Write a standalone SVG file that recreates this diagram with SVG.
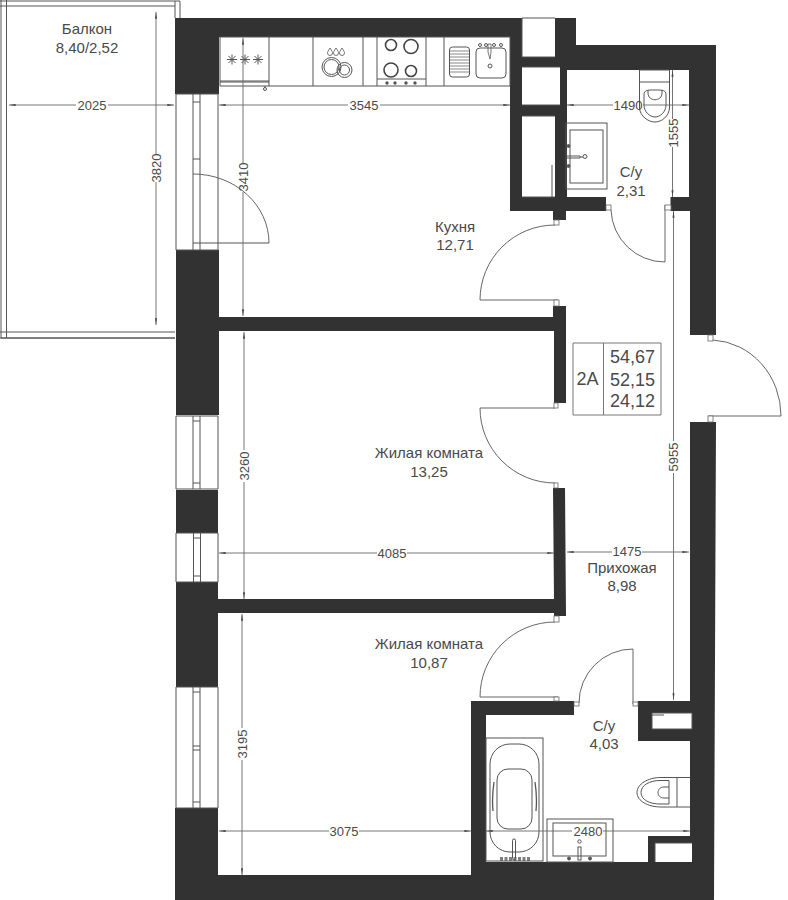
<svg xmlns="http://www.w3.org/2000/svg" width="788" height="900" viewBox="0 0 788 900">
<defs>
<marker id="a" viewBox="0 0 10 6" refX="10" refY="3" markerWidth="8" markerHeight="4" markerUnits="userSpaceOnUse" orient="auto-start-reverse"><path d="M0 1.500L10 3L0 4.500Z" fill="#444"/></marker>
</defs>
<style>
text{font-family:"Liberation Sans",Arial,sans-serif;fill:#4a4a4a;text-anchor:middle}
.r{font-size:15px}.d{font-size:13px}.b{font-size:18px}
.w{fill:#323232;stroke:none}
.l,.f,.ds,.de{fill:none;stroke:#555;stroke-width:1}
.f{stroke-width:.9}
.ds,.de{stroke:#666;stroke-width:.9}
.ds{marker-start:url(#a)}.de{marker-end:url(#a)}
.o{fill:#fff;stroke:#666;stroke-width:.8}
</style>
<rect width="788" height="900" fill="#fff"/>
<g id="walls">
<path class="w" d="M175 18H576V45H716V335H690V211H670.500V197H689V70H567V197H606V211H566V220H553V211H510V37H219V94H175Z"/>
<path class="w" d="M176 250H219V317H553V306H566V403H554V331H219V415H176Z"/>
<path class="w" d="M176 490H218V533H176Z"/>
<path class="w" d="M553 488H565L566 616H554V613H218V687H176V582H218V599H554Z"/>
<path class="w" d="M175 808H218V875H471V701H574V715H486V862H648V836H690V741H638V701H690V422H716L714 900H175Z"/>
<rect x="522" y="18" width="33" height="39" fill="#fff"/>
<rect x="522" y="67" width="38" height="38" fill="#fff"/>
<rect x="522" y="116" width="33" height="81" fill="#fff"/>
<rect x="652" y="713" width="40" height="16" fill="#fff"/>
<rect x="655" y="843" width="37" height="19" fill="#fff"/>
<path class="l" d="M522 18V57H555M522 18H555M522 67H560M522 105H560M522 116H555M522 197H555M552 165V197M652 713H692V729H652ZM655 843V862M655 843H692M652 715H664" stroke-width=".6"/>
</g>
<g id="balcony">
<path class="l" d="M1 0V338H175M6.500 0V338M0 1H180V18M175 1V18M0 6H175M0 332H175M0 338H175"/>
</g>
<g id="windows">
<path class="l" d="M176 94H218V250H176ZM193 94V250M200 94V250M193 102H200M193 159H200M193 243H269"/>
<path class="l" d="M176 416H218V489H176ZM193 416V489M200 416V489M193 421H200M193 483H200"/>
<path class="l" d="M176 533H218V582H176ZM193.500 533V582M200.500 533V582M193.500 538H200.500M193.500 576H200.500"/>
<path class="l" d="M176 687H218V808H176ZM193 687V808M200 687V808M193 692H200M193 746H200M193 750H200M193 802H200"/>
</g>
<g id="doors">
<path class="f" d="M193 174A76 69 0 0 1 269 243"/>
<path class="f" d="M555 225A75 75 0 0 0 480 300H558"/>
<path class="f" d="M480 408H555M480 408A75 75 0 0 0 555 483"/>
<path class="f" d="M555 622A75 75 0 0 0 480 697H558"/>
<path class="f" d="M611 210A54 54 0 0 0 665 262V205"/>
<path class="f" d="M579 703A54 54 0 0 1 633 649V704"/>
<path class="f" d="M713 340A72 76 0 0 1 781 416H708"/>
<g class="o">
<rect x="554" y="220" width="5" height="5"/><rect x="554" y="300" width="5" height="6"/>
<rect x="554" y="403" width="4" height="5"/><rect x="554" y="483" width="4" height="5"/>
<rect x="554" y="616" width="5" height="6"/><rect x="554" y="697" width="5" height="4"/>
<rect x="606" y="205" width="5" height="5"/><rect x="665" y="205" width="6" height="5"/>
<rect x="574" y="702" width="5" height="4"/><rect x="633" y="702" width="5" height="4"/>
<rect x="708" y="335" width="5" height="6"/><rect x="708" y="416" width="5" height="6"/>
</g>
</g>
<g id="kitchen">
<path class="l" d="M220 37H510V86H220ZM269 37V86M313 37V86M363 37V86M377 37V86M426 37V86M444 37V86M220 82H269M220 81H269M377 79H426"/>
<g stroke="#555" stroke-width="1" fill="none">
<path d="M227 59.500H237M232 54.500V64.500M228.500 56L235.500 63M235.500 56L228.500 63M240 59.500H250M245 54.500V64.500M241.500 56L248.500 63M248.500 56L241.500 63M253 59.500H263M258 54.500V64.500M254.500 56L261.500 63M261.500 56L254.500 63"/>
<circle cx="265" cy="89" r="1.500"/><path d="M265 86V88"/>
<path d="M330 48c-2 3-2.500 4-2.500 5a2.500 2.500 0 0 0 5 0c0-1-.5-2-2.500-5ZM336 48c-2 3-2.500 4-2.500 5a2.500 2.500 0 0 0 5 0c0-1-.5-2-2.500-5ZM342 48c-2 3-2.500 4-2.500 5a2.500 2.500 0 0 0 5 0c0-1-.5-2-2.500-5Z" stroke-width=".8"/>
<circle cx="331.500" cy="67" r="9.500"/><circle cx="331.500" cy="67" r="7.500"/><circle cx="344.500" cy="70" r="7.500"/><circle cx="344.500" cy="70" r="5"/>
<g stroke="#444" stroke-width="1.600"><circle cx="391" cy="45" r="5.500"/><circle cx="411" cy="46.500" r="7"/><circle cx="391" cy="70" r="7"/><circle cx="411" cy="71" r="5.500"/></g>
<g fill="#555" stroke="none"><circle cx="387" cy="83" r="1.700"/><circle cx="395" cy="83" r="1.700"/><circle cx="406" cy="83" r="1.700"/><circle cx="415" cy="83" r="1.700"/></g>
<rect x="449.500" y="47" width="20" height="30" rx="3"/><path d="M450 51H469M450 54H469M450 57H469M450 60H469M450 63H469M450 66H469M450 69H469M450 72H469" stroke-width=".7"/>
<rect x="476" y="48" width="30" height="30" rx="4"/><path d="M488 44V52L490 59L491 52V44Z" stroke-width=".8"/>
<circle cx="490" cy="66" r="2"/><circle cx="480" cy="45" r="1.500"/><circle cx="486" cy="45" r="1.500"/><circle cx="494" cy="45" r="1.500"/><circle cx="501" cy="45" r="1.500"/>
</g>
</g>
<g id="wc-top">
<g stroke="#555" stroke-width="1" fill="none">
<rect x="566" y="123" width="41" height="66"/><rect x="570" y="130" width="33" height="53"/>
<path d="M567 156H580V158H567M580 157H583"/><circle cx="585" cy="156.500" r="2"/>
<circle cx="568.500" cy="146" r="1.500" fill="#555"/><circle cx="568.500" cy="166" r="1.500" fill="#555"/>
<path d="M639.500 70H669.500V82H639.500ZM639.500 82V108C640 116 648 122 655 122C662 122 669 116 669.500 108V82"/>
<path d="M644 95C644 90 647 90 655 90C663 90 666 90 666 95V105C666 112 660 117 655 117C650 117 644 112 644 105Z"/>
<path d="M648 90V93C648 102 662 102 662 93V90"/>
</g>
</g>
<g id="wc-bottom">
<g stroke="#555" stroke-width="1" fill="none">
<rect x="486" y="738" width="57" height="123"/>
<rect x="490" y="744" width="49" height="108" rx="20"/>
<rect x="497" y="769" width="35" height="60" rx="11"/>
<path d="M494 782C492 795 492 800 493 811M535 782C537 795 537 800 536 811" stroke-width="1.300"/>
<rect x="512.500" y="839" width="3" height="21" rx="1.500"/>
<path d="M500 858H530M500 860H530" stroke-width="1.500" stroke-dasharray="3 1.500"/>
<rect x="547" y="819" width="66" height="43"/><rect x="553" y="823" width="53" height="33"/>
<circle cx="579.500" cy="841.500" r="1.700"/><rect x="578" y="847" width="3" height="13"/>
<circle cx="569" cy="858.500" r="1.500" fill="#555"/><circle cx="590" cy="858.500" r="1.500" fill="#555"/>
<path d="M690 777.500H677V807H690M677 777.500H661C648 777.500 637 784 637 792.500C637 801 648 807 661 807H677"/>
<path d="M669 780.500H660C650 780.500 641 785 641 792.500C641 800 650 804 660 804H669Z"/>
<path d="M669 787H664C656 787 656 798 664 798H669"/>
</g>
</g>
<g id="connectors">
<path class="ds" d="M9 105H76"/><path class="de" d="M108 105H174"/>
<path class="ds" d="M156 12V154"/><path class="de" d="M156 182V325"/>
<path class="ds" d="M219 105H348"/><path class="de" d="M380 105H510"/>
<path class="ds" d="M243 38V163"/><path class="de" d="M243 192V316"/>
<path class="ds" d="M567 105H613"/><path class="de" d="M643 105H689"/>
<path class="ds" d="M672.500 70V119"/><path class="de" d="M672.500 147V197"/>
<path class="ds" d="M673.500 211V441"/><path class="de" d="M673.500 473V700"/>
<path class="ds" d="M567 552H612"/><path class="de" d="M642 552H689"/>
<path class="ds" d="M219 553H377"/><path class="de" d="M407 553H554"/>
<path class="ds" d="M244 332V450"/><path class="de" d="M244 482V599"/>
<path class="ds" d="M242 614V728"/><path class="de" d="M242 760V875"/>
<path class="ds" d="M219 831H329"/><path class="de" d="M359 831H471"/>
<path class="ds" d="M486 831H572"/><path class="de" d="M603 831H690"/>
</g>
<g id="labels">
<text class="r" x="87" y="34">Балкон</text><text class="r" x="87" y="53">8,40/2,52</text>
<text class="r" x="455" y="232">Кухня</text><text class="r" x="455" y="250">12,71</text>
<text class="r" x="631" y="177">С/у</text><text class="r" x="631" y="196">2,31</text>
<text class="r" x="429" y="458">Жилая комната</text><text class="r" x="429" y="477">13,25</text>
<text class="r" x="622" y="573">Прихожая</text><text class="r" x="622" y="591">8,98</text>
<text class="r" x="429" y="649">Жилая комната</text><text class="r" x="429" y="668">10,87</text>
<text class="r" x="604" y="731">С/у</text><text class="r" x="604" y="749">4,03</text>
<text class="d" x="92" y="110">2025</text>
<text class="d" x="364" y="110">3545</text>
<text class="d" x="628" y="110">1490</text>
<text class="d" x="627" y="556">1475</text>
<text class="d" x="392" y="558">4085</text>
<text class="d" x="344" y="836">3075</text>
<text class="d" x="588" y="836">2480</text>
<text class="d" transform="translate(161 168) rotate(-90)">3820</text>
<text class="d" transform="translate(248 177) rotate(-90)">3410</text>
<text class="d" transform="translate(678 133) rotate(-90)">1555</text>
<text class="d" transform="translate(678 457) rotate(-90)">5955</text>
<text class="d" transform="translate(249 466) rotate(-90)">3260</text>
<text class="d" transform="translate(247 744) rotate(-90)">3195</text>
</g>
<g id="info">
<path d="M573 343H661V415H573ZM603.500 343V415" fill="none" stroke="#777" stroke-width="1"/>
<text class="b" x="587.500" y="385">2А</text>
<text class="b" x="632.500" y="363">54,67</text><text class="b" x="632.500" y="386">52,15</text><text class="b" x="632.500" y="407">24,12</text>
</g>
</svg>
